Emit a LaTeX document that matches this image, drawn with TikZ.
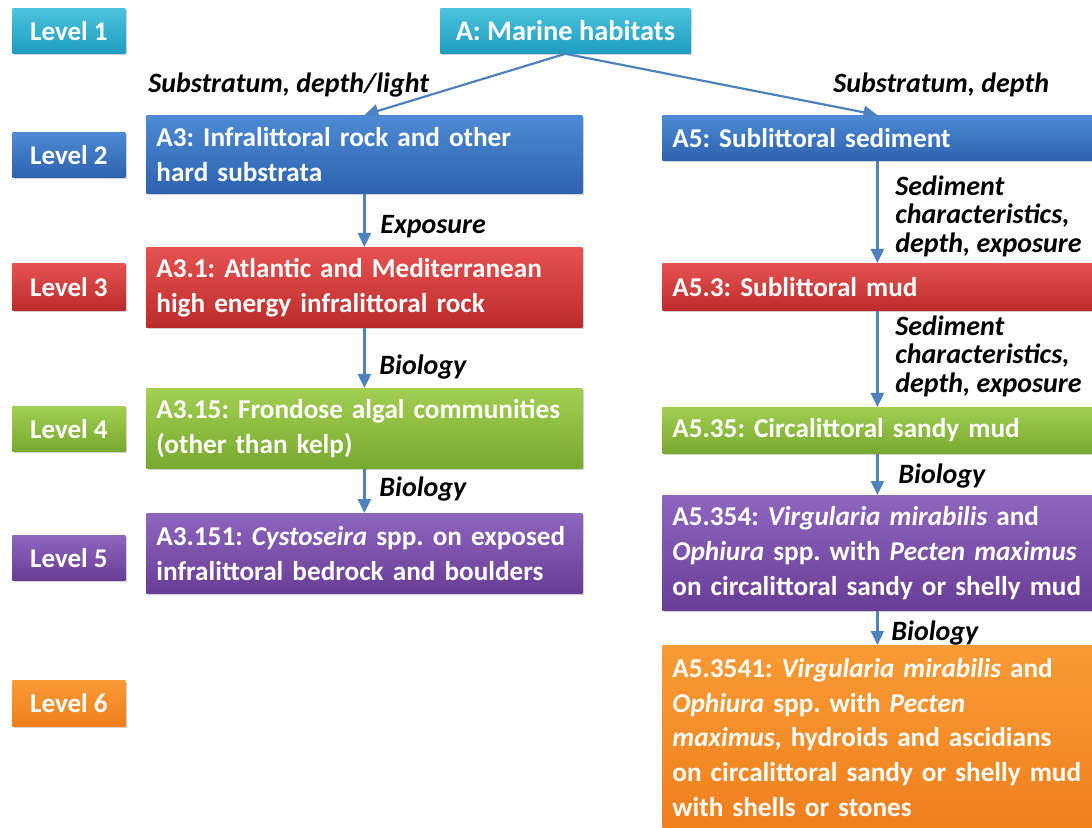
\documentclass[tikz,border=0pt]{standalone}
\usepackage{fontspec}
\setmainfont{Carlito}
\usetikzlibrary{arrows.meta}
\usetikzlibrary{shadows}

\definecolor{cyanT}{HTML}{4CC3DD}
\definecolor{cyanB}{HTML}{1F9CBF}
\definecolor{blueT}{HTML}{4D8AD4}
\definecolor{blueB}{HTML}{2E62AE}
\definecolor{redT}{HTML}{E65252}
\definecolor{redB}{HTML}{BC2B2B}
\definecolor{greenT}{HTML}{A2CF52}
\definecolor{greenB}{HTML}{78A82F}
\definecolor{purpleT}{HTML}{8E66BE}
\definecolor{purpleB}{HTML}{683D96}
\definecolor{orangeT}{HTML}{F99B35}
\definecolor{orangeB}{HTML}{F07F1C}
\definecolor{arrowblue}{HTML}{4F81BD}

\tikzset{
  tint/.style 2 args={top color=#1,bottom color=#2},
  boxshadow/.style={drop shadow={shadow xshift=0.8pt,shadow yshift=-0.8pt,opacity=0.3,fill=black!60}},
  lvl/.style={anchor=north west,minimum width=56.5pt,minimum height=22.5pt,inner sep=0pt,
    text=white,font=\bfseries\fontsize{13.5}{15}\selectfont,boxshadow},
  hab/.style={anchor=north west,inner xsep=5pt,inner ysep=0pt,align=left,text=white,
    font=\bfseries\fontsize{13.6}{17.4}\selectfont,execute at begin node=\frenchspacing,boxshadow},
  leftcol/.style={hab,text width=208pt},
  rightcol/.style={hab,text width=205pt},
  link/.style={draw=arrowblue,line width=1.1pt,-{Triangle[width=6.5pt,length=7pt]}},
  crit/.style={inner sep=0pt,align=left,text=black,font=\bfseries\itshape\fontsize{14}{14.2}\selectfont}
}

\begin{document}
\begin{tikzpicture}[x=0.5pt,y=-0.5pt]
\useasboundingbox (0,0) rectangle (1092,828);

% level tags
\node[lvl,tint={cyanT}{cyanB}] (lev1) at (12,8) {Level 1};
\node[lvl,tint={blueT}{blueB}] (lev2) at (12,132) {Level 2};
\node[lvl,tint={redT}{redB},minimum height=23.5pt] (lev3) at (12,263) {Level 3};
\node[lvl,tint={greenT}{greenB}] (lev4) at (12,406) {Level 4};
\node[lvl,tint={purpleT}{purpleB}] (lev5) at (12,535) {Level 5};
\node[lvl,tint={orangeT}{orangeB},minimum height=23pt] (lev6) at (12,680) {Level 6};

% habitats
\node[hab,tint={cyanT}{cyanB},minimum width=125pt,minimum height=22.5pt,align=center,
  font=\bfseries\fontsize{14.2}{17.4}\selectfont] (A) at (440,8) {A: Marine habitats};

\node[leftcol,tint={blueT}{blueB},minimum height=39pt] (A3) at (146,115) {A3: Infralittoral rock and other\\hard substrata};
\node[leftcol,tint={redT}{redB},minimum height=40pt] (A31) at (146,247) {A3.1: Atlantic and Mediterranean\\high energy infralittoral rock};
\node[leftcol,tint={greenT}{greenB},minimum height=40pt] (A315) at (146,388) {A3.15: Frondose algal communities\\(other than kelp)};
\node[leftcol,tint={purpleT}{purpleB},minimum height=40pt] (A3151) at (146,513) {A3.151: \textit{Cystoseira} spp. on exposed\\infralittoral bedrock and boulders};

\node[rightcol,tint={blueT}{blueB},minimum height=22.5pt] (A5) at (662,115) {A5: Sublittoral sediment};
\node[rightcol,tint={redT}{redB},minimum height=23.5pt] (A53) at (662,263) {A5.3: Sublittoral mud};
\node[rightcol,tint={greenT}{greenB},minimum height=23pt] (A535) at (662,407) {A5.35: Circalittoral sandy mud};
\node[rightcol,tint={purpleT}{purpleB},minimum height=57.5pt] (A5354) at (662,495) {A5.354: \textit{Virgularia mirabilis} and\\\textit{Ophiura} spp. with \textit{Pecten maximus}\\on circalittoral sandy or shelly mud};
\node[rightcol,tint={orangeT}{orangeB},minimum height=92pt] (A53541) at (662,645) {A5.3541: \textit{Virgularia mirabilis} and\\\textit{Ophiura} spp. with \textit{Pecten}\\\textit{maximus}, hydroids and ascidians\\on circalittoral sandy or shelly mud\\with shells or stones};

% criteria
\node[crit,anchor=west] (c1) at (148,85) {Substratum, depth/light};
\node[crit,anchor=west] (c2) at (833,85) {Substratum, depth};
\node[crit,anchor=west] (c3) at (380,227) {Exposure};
\node[crit,anchor=west] (c4) at (379,367) {Biology};
\node[crit,anchor=west] (c5) at (379,489) {Biology};
\node[crit,anchor=west] (c6) at (895,216) {Sediment\\characteristics,\\depth, exposure};
\node[crit,anchor=west] (c7) at (895,356) {Sediment\\characteristics,\\depth, exposure};
\node[crit,anchor=west] (c8) at (898,476) {Biology};
\node[crit,anchor=west] (c9) at (891,633) {Biology};

% links
\draw[link] (A.south) -- (A3.north);
\draw[link] (A.south) -- (A5.north);
\draw[link] (A3) -- (A31);
\draw[link] (A31) -- (A315);
\draw[link] (A315) -- (A3151);
\draw[link] (A5) -- (A53);
\draw[link] (A53) -- (A535);
\draw[link] (A535) -- (A5354);
\draw[link] (A5354) -- (A53541);

\end{tikzpicture}
\end{document}
